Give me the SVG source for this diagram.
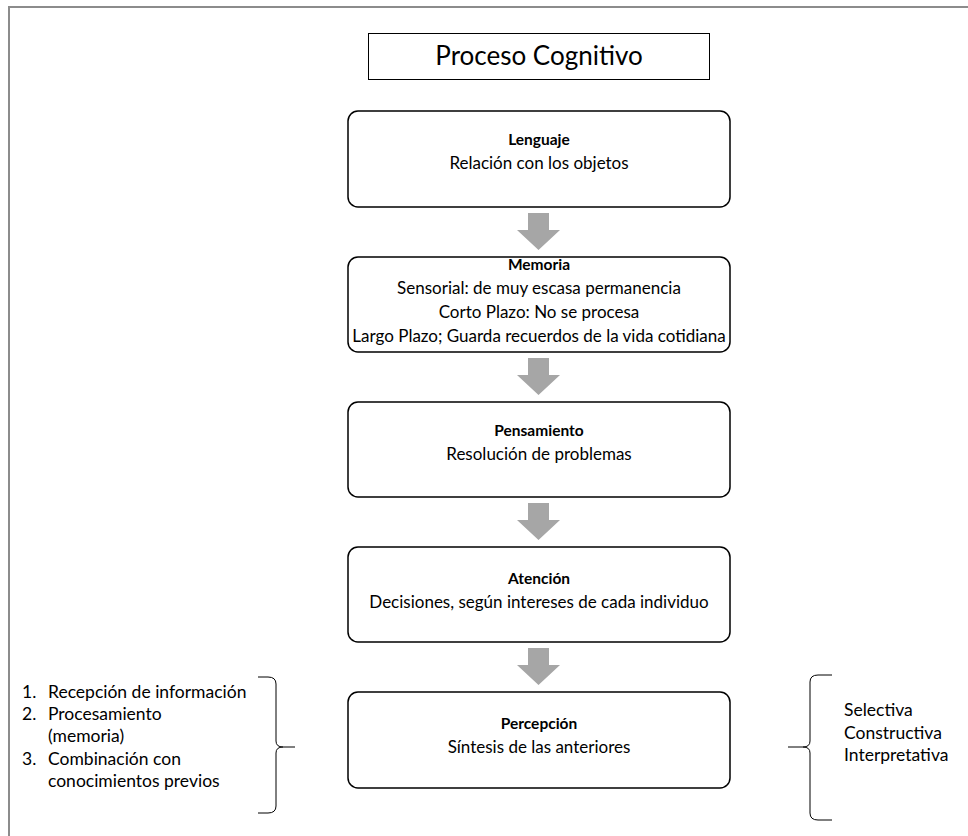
<svg xmlns="http://www.w3.org/2000/svg" width="968" height="836" viewBox="0 0 968 836">
  <defs>
    <style>
      .frame { fill: none; stroke: #8c8c8c; stroke-width: 2; }
      .node { fill: #ffffff; stroke: #000000; stroke-width: 1.5; }
      .title-box { fill: #ffffff; stroke: #000000; stroke-width: 1; }
      .brace { fill: none; stroke: #000000; stroke-width: 1; }
      .flow { fill: #a6a6a6; }
      text { font-family: Lato, "Open Sans", "Liberation Sans", sans-serif; fill: #000000; }
      .head { font-size: 15.5px; font-weight: bold; text-anchor: middle; }
      .body { font-size: 17px; text-anchor: middle; }
      .side { font-size: 17.5px; }
      .title { font-size: 26px; text-anchor: middle; }
    </style>
    <!-- downward block arrow, local origin at its top edge -->
    <path id="down-arrow" d="M528,0 H549 V17 H560 L538.5,37 L517,17 H528 Z"/>
  </defs>

  <rect width="968" height="836" fill="#ffffff"/>
  <path class="frame" d="M9,836 V7 H968"/>

  <g id="title">
    <rect class="title-box" x="368.5" y="33.5" width="341" height="46"/>
    <text class="title" x="539" y="65">Proceso Cognitivo</text>
  </g>

  <g id="connectors">
    <use class="flow" href="#down-arrow" transform="translate(0,213)"/>
    <use class="flow" href="#down-arrow" transform="translate(0,358)"/>
    <use class="flow" href="#down-arrow" transform="translate(0,503)"/>
    <use class="flow" href="#down-arrow" transform="translate(0,648)"/>
  </g>

  <g id="lenguaje">
    <rect class="node" x="348" y="111" width="382" height="96" rx="10"/>
    <text class="head" x="539" y="145">Lenguaje</text>
    <text class="body" x="539" y="169">Relación con los objetos</text>
  </g>

  <g id="memoria">
    <rect class="node" x="348" y="257" width="382" height="95" rx="10"/>
    <text class="head" x="539" y="270">Memoria</text>
    <text class="body" x="539" y="294">Sensorial: de muy escasa permanencia</text>
    <text class="body" x="539" y="318">Corto Plazo: No se procesa</text>
    <text class="body" x="539" y="342">Largo Plazo; Guarda recuerdos de la vida cotidiana</text>
  </g>

  <g id="pensamiento">
    <rect class="node" x="348" y="402" width="382" height="95" rx="10"/>
    <text class="head" x="539" y="436">Pensamiento</text>
    <text class="body" x="539" y="460">Resolución de problemas</text>
  </g>

  <g id="atencion">
    <rect class="node" x="348" y="547" width="382" height="95" rx="10"/>
    <text class="head" x="539" y="584">Atención</text>
    <text class="body" x="539" y="608">Decisiones, según intereses de cada individuo</text>
  </g>

  <g id="percepcion">
    <rect class="node" x="348" y="692" width="382" height="96" rx="10"/>
    <text class="head" x="539" y="729">Percepción</text>
    <text class="body" x="539" y="753">Síntesis de las anteriores</text>
  </g>

  <g id="etapas">
    <path class="brace" d="M258,677 H268 Q276,677 276,684 V741 Q276,747 283,747 H295 M283,747 Q276,747 276,753 V806 Q276,813 268,813 H258"/>
    <text class="side" x="22" y="698">1.</text>
    <text class="side" x="48" y="698">Recepción de información</text>
    <text class="side" x="22" y="720">2.</text>
    <text class="side" x="48" y="720">Procesamiento</text>
    <text class="side" x="48" y="742">(memoria)</text>
    <text class="side" x="22" y="765">3.</text>
    <text class="side" x="48" y="765">Combinación con</text>
    <text class="side" x="48" y="787">conocimientos previos</text>
  </g>

  <g id="caracteristicas">
    <path class="brace" d="M832,675 H818 Q810,675 810,682 V741 Q810,747 803,747 H788 M803,747 Q810,747 810,753 V813 Q810,820 818,820 H832"/>
    <text class="side" x="844" y="716">Selectiva</text>
    <text class="side" x="844" y="739">Constructiva</text>
    <text class="side" x="844" y="761">Interpretativa</text>
  </g>
</svg>
